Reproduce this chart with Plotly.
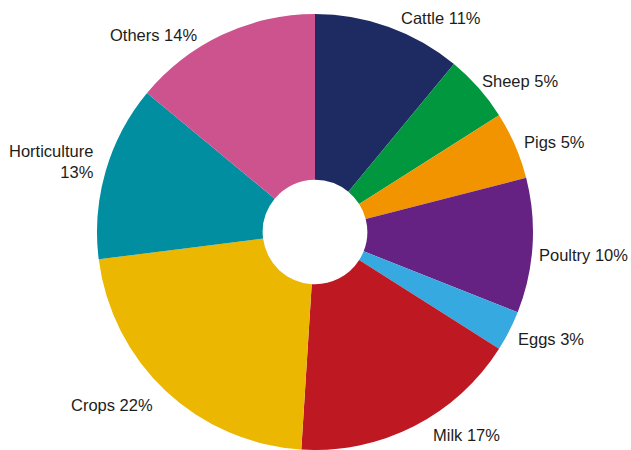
import math
import plotly.graph_objects as go

# Share of output by sector (%)
categories = ["Cattle", "Sheep", "Pigs", "Poultry", "Eggs", "Milk", "Crops", "Horticulture", "Others"]
shares = [11, 5, 5, 10, 3, 17, 22, 13, 14]
label_names = ["Cattle", "Sheep", "Pigs", "Poultry", "Eggs", "Milk", "Crops", "Horticulture<br>", "Others"]

colors = ["#1e2b63", "#00973f", "#f29400", "#652282", "#36a9e1",
          "#be1823", "#ebb700", "#008ea0", "#cd538e"]

# label offsets in pixels (x, y), y positive = up
label_nudge = {
    "Cattle": (7, 1), "Sheep": (-5, 2), "Pigs": (0, 0), "Poultry": (-4, -9),
    "Eggs": (0, -4), "Milk": (13, -2), "Crops": (-5, -8),
    "Horticulture": (-2, 7), "Others": (-20, -7),
}

W, H = 631, 450
CX, CY, R = 315, 232, 218          # pie centre / radius in pixels
LABEL_R = R + 8

fig = go.Figure(go.Pie(
    labels=categories,
    values=shares,
    sort=False,
    direction="clockwise",
    rotation=0,
    hole=0.24,
    marker=dict(colors=colors, line=dict(width=0)),
    textinfo="none",
    hoverinfo="label+percent",
    domain=dict(x=[(CX - R) / W, (CX + R) / W], y=[0, 1 - (CY - R) / H]),
))

total = sum(shares)
cum = 0
for cat, name, val in zip(categories, label_names, shares):
    mid = (cum + val / 2) / total * 2 * math.pi
    cum += val
    s, c = math.sin(mid), math.cos(mid)
    px = CX + LABEL_R * s
    py = CY - LABEL_R * c
    dx, dy = label_nudge[cat]
    sep = "" if name.endswith("<br>") else " "
    fig.add_annotation(
        x=px / W, y=1 - py / H, xref="paper", yref="paper",
        text=f"{name}{sep}{val}%",
        showarrow=False,
        xanchor="left" if s > 0 else "right",
        yanchor="middle",
        align="right" if s < 0 else "left",
        xshift=dx, yshift=dy,
        font=dict(family="Liberation Sans, Arial, Helvetica, sans-serif", size=16.5, color="#1d1d1b"),
    )

fig.update_layout(
    width=W, height=H,
    margin=dict(l=0, r=0, t=0, b=0),
    showlegend=False,
    paper_bgcolor="white",
    plot_bgcolor="white",
)

fig.write_html("out.html")
